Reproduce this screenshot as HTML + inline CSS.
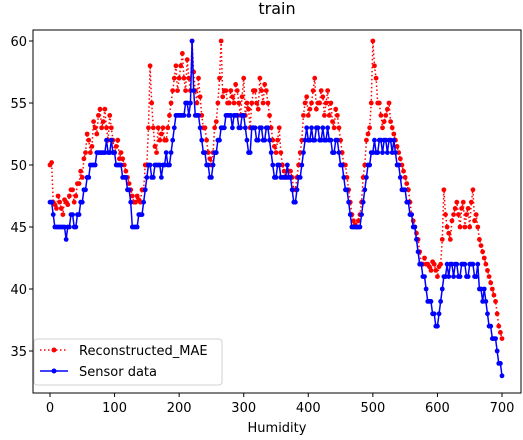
<!DOCTYPE html>
<html><head><meta charset="utf-8"><style>
body{margin:0;background:#fff;font-family:"Liberation Sans","DejaVu Sans",sans-serif;}
svg text{font-family:"DejaVu Sans","Liberation Sans",sans-serif;}
</style></head><body>
<svg id="chart" width="523" height="435" xmlns="http://www.w3.org/2000/svg">
<rect width="523" height="435" fill="#fff"/>
<text x="277" y="14" font-size="16" text-anchor="middle">train</text>
<g id="plot"></g>
<rect x="33" y="30" width="488" height="363" fill="none" stroke="#000" stroke-width="1"/>
<g id="ticks"></g>
<text x="277" y="432" font-size="13" text-anchor="middle">Humidity</text>
<g>
<rect x="34" y="339" width="188" height="46" rx="3" fill="#fff" stroke="#ccc" opacity="0.9"/>
<g>
<line x1="40" y1="350" x2="68" y2="350" stroke="red" stroke-width="1.5" stroke-dasharray="1.5,2.5"/>
<circle cx="54" cy="350" r="2.5" fill="red"/>
<text x="79" y="355" font-size="13">Reconstructed_MAE</text></g>
<g>
<line x1="40" y1="371" x2="68" y2="371" stroke="blue" stroke-width="1.5"/>
<circle cx="54" cy="371" r="2.5" fill="blue"/>
<text x="79" y="376" font-size="13">Sensor data</text></g>
</g>
</svg>
<script>
const sensor = [47,46,45,45,45,44,45,46,45,46,47,48,49,50,50,51,51,51,51,52,51,50,50,49,48,47,45,45,46,47,49,50,49,50,50,50,51,50,52,54,54,54,55,54,60,54,54,52,51,50,49,51,52,53,53,54,54,54,54,53,54,52,51,53,52,53,52,53,52,50,49,50,49,49,49,48,47,49,50,52,52,53,52,53,52,52,53,52,51,52,50,49,48,46,45,45,45,47,49,50,51,51,52,51,52,52,51,51,50,48,48,47,46,45,43,42,41,39,39,38,37,39,41,42,42,41,42,41,42,41,42,42,41,40,39,39,37,36,36,34,33];
const sensorMid = [47,45,45,45,45,45,46,45,46,47,48,49,50,50,51,51,51,52,51,51,50,50,49,49,48,45,45,46,46,48,50,49,50,50,49,50,50,51,53,54,54,54,55,55,56,54,53,51,50,49,50,51,52,53,54,54,53,54,53,54,53,51,53,53,52,53,52,53,51,49,50,49,49,50,49,47,48,49,51,53,52,52,53,52,53,52,52,51,52,51,50,48,47,45,45,45,46,48,50,51,52,51,52,52,51,52,52,50,49,48,47,46,45,44,42,41,40,39,38,37,38,40,41,41,42,42,41,42,42,41,42,41,42,40,40,38,37,36,35,34];
const recon = [50,47,46.5,47,46,47,47.5,48,47.5,48.5,49,51,52,51.5,53,54,53,54.5,52,53,51,52,51,50,49,48,47,47.5,47,48,50,58,53,51,52,53,52,54,56,58,57,59,56,57,60,56,57,54,53,51,50,53,55,60,56,55,56,55,56,54,57,55,53,56,55,57,55,56,54,52,51,53,50,49,49.5,49,48,50,52,55,54,55,57,55,56,54,56,55,53,54,52,50,49,47,45.5,45,46,49,52,53,60,57,55,53,54,55,53,52,51,50,49,48,46,45,44,42,42.5,42,41.5,42,41,42,48,45,44,46,47,45,47,46,45,48,46,44,43,42,41,40,39,37,36];
const reconMid = [50.2,46.8,47.5,46.5,47.2,46.8,48,47,48.5,49.5,50.5,52.5,51,53.5,52.5,54.5,53.5,53,54,52,51.5,50.5,50.5,49.5,48.5,47.5,47,47.2,48,50,53,55,51.5,53,52.5,52,53,55,57,56,58,57,58.5,56,57.5,55,55.5,53,52,50.5,51,53.5,57,55.5,56,55,55.5,56.5,55,55.5,54,54.5,55,56,54.5,56,56.5,55,53,51.5,52,51,49.5,49,49.5,48,49,51,54,55.5,54.5,56,54.5,55,55.5,55,54,53.5,54.5,53,51,50,48,46,45.2,45.5,47,50,52.5,55,58,55,54,53.5,54.5,53.5,52.5,51.5,50.5,49.5,48.5,47,45.5,44.5,43,42,42,41.8,42.2,41.5,41.8,44,46,44.5,45.5,46.5,46,46.5,45,46.5,47,45.5,45,43.5,42.5,41.5,40.5,39.5,38,36.5];
const yTicks = [35,40,45,50,55,60];
const xTicks = [0,100,200,300,400,500,600,700];
const STEP = 5;
const X = v => 50 + v*(452/700);
const Y = v => 351 - (v-35)*12.4;
const NS='http://www.w3.org/2000/svg';
const plot=document.getElementById('plot'), ticks=document.getElementById('ticks');
function mk(tag,attrs,parent){const e=document.createElementNS(NS,tag);for(const k in attrs)e.setAttribute(k,attrs[k]);parent.appendChild(e);return e;}
function merge(main,mid){const out=[];main.forEach((v,i)=>{out.push([i*STEP,v]);if(i<mid.length)out.push([i*STEP+STEP/2,mid[i]]);});return out;}
function series(pts,color,dash,name){
  const g=mk('g',{},plot);
  
  
  const p=mk('polyline',{points:pts.map(d=>X(d[0])+','+Y(d[1])).join(' '),fill:'none',stroke:color,'stroke-width':1.5},g);
  if(dash)p.setAttribute('stroke-dasharray',dash);
  pts.forEach(d=>{const c=mk('circle',{cx:X(d[0]),cy:Y(d[1]),r:2.4,fill:color},g);
    
    });
}
series(merge(recon,reconMid),'red','1.5,2.5','series-reconstructed');
series(merge(sensor,sensorMid),'blue',null,'series-sensor');
yTicks.forEach(t=>{const g=mk('g',{},ticks);
  
  
  mk('line',{x1:29,x2:33,y1:Y(t),y2:Y(t),stroke:'#000'},g);
  const tx=mk('text',{x:27,y:Y(t)+5,'font-size':13,'text-anchor':'end'},g);tx.textContent=t;});
xTicks.forEach(t=>{const g=mk('g',{},ticks);
  
  
  mk('line',{x1:X(t),x2:X(t),y1:393,y2:397,stroke:'#000'},g);
  const tx=mk('text',{x:X(t),y:412,'font-size':13,'text-anchor':'middle'},g);tx.textContent=t;});
</script>
</body></html>
